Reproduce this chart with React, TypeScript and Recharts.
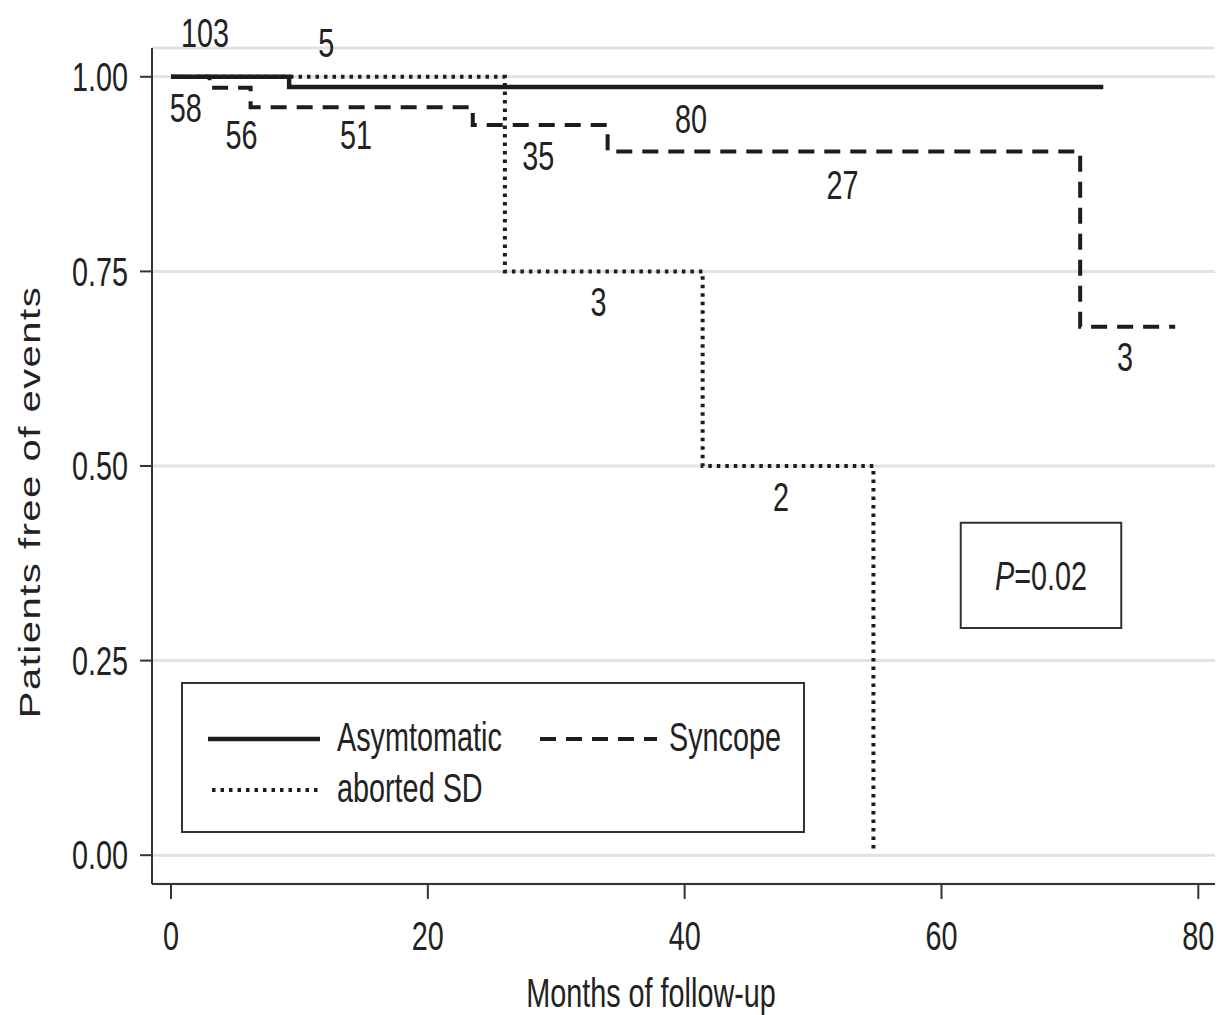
import { LineChart, Line, XAxis, YAxis, CartesianGrid, Legend, ReferenceDot, ReferenceArea, Label } from 'recharts';

const FONT = '"Liberation Sans", Arial, sans-serif';
// the original figure is squeezed sideways, so text is drawn narrower than the font
const SQUEEZE = 0.72;
const INK = '#1c1c1c';

// Kaplan-Meier steps (months, proportion free of events)
const asymMonths = [0, 9.2, 72.6];
const asymSurv = [1, 0.987, 0.987];
const syncMonths = [0, 3.0, 6.2, 23.5, 34.0, 70.8, 78.2];
const syncSurv = [1, 0.986, 0.961, 0.938, 0.904, 0.679, 0.679];
const sdMonths = [0, 26.0, 41.4, 54.7];
const sdSurv = [1, 0.75, 0.5, 0.005];

const xTicks = [0, 20, 40, 60, 80];
const yTicks = [0, 0.25, 0.5, 0.75, 1];

// numbers at risk written next to the curves
const riskLabels = ['103', '5', '58', '56', '51', '35', '80', '27', '3', '2', '3'];
const riskMonths = [2.65, 12.1, 1.15, 5.5, 14.4, 28.6, 40.5, 52.3, 33.3, 47.5, 74.3];
const riskSurv = [1.056, 1.044, 0.96, 0.925, 0.925, 0.898, 0.946, 0.861, 0.711, 0.461, 0.64];

const toRows = (months: number[], surv: number[]) => months.map((m, i) => ({ month: m, surv: surv[i] }));

const series = [
  { name: 'aborted SD', data: toRows(sdMonths, sdSurv), dash: '3.5 5', width: 4 },
  { name: 'Syncope', data: toRows(syncMonths, syncSurv), dash: '16 10', width: 4 },
  { name: 'Asymtomatic', data: toRows(asymMonths, asymSurv), dash: undefined, width: 4.5 },
];

function NarrowText({ x, y, anchor = 'middle', dy = '0.355em', size = 40, children }: any) {
  return (
    <text
      x={x}
      y={y}
      dy={dy}
      textAnchor={anchor}
      fontFamily={FONT}
      fontSize={size}
      fill="#222"
      transform={`translate(${x} ${y}) scale(${SQUEEZE} 1) translate(${-x} ${-y})`}
    >
      {children}
    </text>
  );
}

const YTick = (props: any) => (
  <NarrowText x={props.x} y={props.y} anchor="end">
    {Number(props.payload.value).toFixed(2)}
  </NarrowText>
);

const XTick = (props: any) => (
  <NarrowText x={props.x} y={props.y} dy="0.71em">
    {props.payload.value}
  </NarrowText>
);

const XTitle = ({ viewBox }: any) => (
  <NarrowText x={viewBox.x + 499} y={viewBox.y + 109}>
    Months of follow-up
  </NarrowText>
);

const YTitle = ({ viewBox }: any) => {
  const cx = viewBox.x + 30;
  const cy = viewBox.y + viewBox.height / 2 + 36;
  return (
    <text
      x={0}
      y={0}
      dy="0.355em"
      textAnchor="middle"
      fontFamily={FONT}
      fontSize={40}
      letterSpacing={1.5}
      fill="#222"
      transform={`translate(${cx} ${cy}) rotate(-90) scale(1 ${SQUEEZE})`}
    >
      Patients free of events
    </text>
  );
};

const legendSlots: Record<string, { lx: number; len: number; row: number; tx: number }> = {
  Asymtomatic: { lx: 25, len: 112, row: 55, tx: 154 },
  Syncope: { lx: 357, len: 117, row: 55, tx: 486 },
  'aborted SD': { lx: 29, len: 110, row: 106, tx: 154 },
};

function KmLegend({ payload }: any) {
  return (
    <div style={{ width: 620, height: 147, border: '2px solid #333', background: '#fff' }}>
      <svg width={620} height={147}>
        {(payload ?? []).map((entry: any) => {
          const slot = legendSlots[entry.value];
          const s = series.find((d) => d.name === entry.value);
          if (!slot || !s) return null;
          return (
            <g key={entry.value}>
              <line
                x1={slot.lx}
                x2={slot.lx + slot.len}
                y1={slot.row}
                y2={slot.row}
                stroke={INK}
                strokeWidth={s.width}
                strokeDasharray={s.dash}
              />
              <NarrowText x={slot.tx} y={slot.row - 2} anchor="start">
                {entry.value}
              </NarrowText>
            </g>
          );
        })}
      </svg>
    </div>
  );
}

const PLabel = ({ viewBox }: any) => {
  const cx = viewBox.x + viewBox.width / 2;
  const cy = viewBox.y + viewBox.height / 2;
  return (
    <text
      x={cx}
      y={cy}
      dy="0.355em"
      textAnchor="middle"
      fontFamily={FONT}
      fontSize={40}
      fill="#222"
      transform={`translate(${cx} ${cy}) scale(${SQUEEZE} 1) translate(${-cx} ${-cy})`}
    >
      <tspan fontStyle="italic">P</tspan>=0.02
    </text>
  );
};

const RiskLabel = ({ viewBox, value }: any) => <NarrowText x={viewBox.x} y={viewBox.y}>{value}</NarrowText>;

export default function App() {
  return (
    <div style={{ position: 'absolute', left: 0, top: 0, width: 1219, height: 1015, background: '#fff' }}>
      <LineChart width={1219} height={1015} margin={{ top: 48, right: 4, bottom: 0, left: 0 }}>
        <CartesianGrid vertical={false} stroke="#e2e2e2" strokeWidth={3} />
        <XAxis
          type="number"
          dataKey="month"
          domain={[-1.48, 81.3]}
          ticks={xTicks}
          allowDataOverflow
          height={131}
          axisLine={{ stroke: '#333', strokeWidth: 2 }}
          tickLine={{ stroke: '#333', strokeWidth: 2 }}
          tickSize={15}
          tickMargin={23}
          tick={XTick}
        >
          <Label content={XTitle} />
        </XAxis>
        <YAxis
          type="number"
          domain={[-0.037, 1.037]}
          ticks={yTicks}
          allowDataOverflow
          width={152}
          axisLine={{ stroke: '#333', strokeWidth: 2 }}
          tickLine={{ stroke: '#333', strokeWidth: 2 }}
          tickSize={12}
          tickMargin={12}
          tick={YTick}
        >
          <Label content={YTitle} />
        </YAxis>
        <Legend
          layout="horizontal"
          verticalAlign="middle"
          align="center"
          content={KmLegend}
          wrapperStyle={{ left: 181, top: 682, width: 624, height: 151 }}
        />
        <ReferenceArea
          x1={61.5}
          x2={74.0}
          y1={0.292}
          y2={0.427}
          fill="#fff"
          fillOpacity={1}
          stroke="#333"
          strokeWidth={2}
          label={<PLabel />}
        />
        {series.map((s) => (
          <Line
            key={s.name}
            name={s.name}
            data={s.data}
            dataKey="surv"
            type="stepAfter"
            stroke={INK}
            strokeWidth={s.width}
            strokeDasharray={s.dash}
            dot={false}
            activeDot={false}
            isAnimationActive={false}
          />
        ))}
        {riskLabels.map((lab, i) => (
          <ReferenceDot
            key={i}
            x={riskMonths[i]}
            y={riskSurv[i]}
            r={0}
            fill="none"
            stroke="none"
            ifOverflow="visible"
            label={<RiskLabel value={lab} />}
          />
        ))}
      </LineChart>
    </div>
  );
}
